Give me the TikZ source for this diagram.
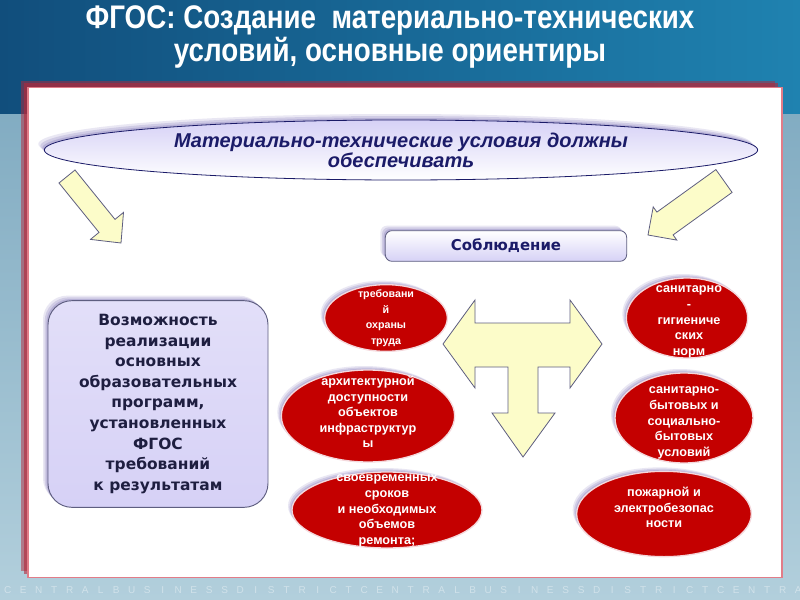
\documentclass[tikz,border=0pt]{standalone}
\usepackage{fontspec}
\setmainfont{Liberation Sans}
\newfontfamily\titlefont[FakeStretch=0.85]{Liberation Sans}
\newfontfamily\boxfont{DejaVu Sans}
\usetikzlibrary{shapes,arrows,positioning,shadows}

\definecolor{bgdark}{HTML}{114E7C}
\definecolor{bgmid}{HTML}{1F82B0}
\definecolor{bglight}{HTML}{77A4BC}
\definecolor{bgpale}{HTML}{B2CFDC}
\definecolor{panelred}{HTML}{B3283A}
\definecolor{panelrim}{HTML}{E27C88}
\definecolor{navy}{HTML}{1B1B68}
\definecolor{darktext}{HTML}{1E1E40}
\definecolor{lav}{HTML}{D6D1F6}
\definecolor{lavshadow}{HTML}{6F62B0}
\definecolor{redfill}{HTML}{C40000}
\definecolor{redrim}{HTML}{F4D8DC}
\definecolor{pale}{HTML}{FCFCC9}
\definecolor{arrowrim}{HTML}{5E5E80}

\tikzset{
  softshadow/.style={
    drop shadow={shadow xshift=-#1*1.5, shadow yshift=#1*1.5, fill=lavshadow, opacity=.15},
    drop shadow={shadow xshift=-#1, shadow yshift=#1, fill=lavshadow, opacity=.2},
    drop shadow={shadow xshift=-#1*.5, shadow yshift=#1*.5, fill=lavshadow, opacity=.25}},
  title/.style={text=white, align=center, font=\titlefont\bfseries\fontsize{24.5}{22.5}\selectfont},
  panel/.style={rectangle, fill=white, draw=panelrim, line width=0.8pt,
    minimum width=565.5pt, minimum height=368pt,
    drop shadow={shadow xshift=-5pt, shadow yshift=5pt, fill=panelred, opacity=.5},
    drop shadow={shadow xshift=-3pt, shadow yshift=3pt, fill=panelred, opacity=.6}},
  head/.style={ellipse, draw=navy, line width=0.6pt, top color=lav, bottom color=white,
    minimum width=535pt, minimum height=45pt, softshadow=3pt},
  headtext/.style={text=navy, align=center, inner sep=0,
    font=\bfseries\itshape\fontsize{15}{15}\selectfont},
  keepbox/.style={rectangle, rounded corners=5pt, draw=arrowrim, line width=0.6pt,
    top color=white, bottom color=lav, minimum width=181pt, minimum height=23pt,
    text=navy, font=\boxfont\bfseries\fontsize{11.2}{13}\selectfont, softshadow=2.5pt},
  bigbox/.style={rectangle, rounded corners=18pt, draw=arrowrim, line width=0.7pt,
    top color=lav!70, bottom color=lav, minimum width=165pt, minimum height=155pt,
    text=darktext, align=center, font=\boxfont\bfseries\fontsize{11.6}{15.4}\selectfont,
    softshadow=2.5pt},
  redell/.style={ellipse, fill=redfill, draw=redrim, line width=1pt, softshadow=2pt},
  redtext/.style={text=white, align=center, inner sep=0,
    font=\bfseries\fontsize{9.5}{11.7}\selectfont},
  blockarrow/.style={fill=pale, draw=arrowrim, line width=0.6pt, line join=miter},
  wmark/.style={text=white, opacity=.4, font=\fontsize{7.5}{7.5}\selectfont}
}

\begin{document}
\begin{tikzpicture}[x=0.75pt,y=-0.75pt]
\useasboundingbox (0,0) rectangle (800,600);
% background
\fill[top color=bglight, bottom color=bgpale] (0,0) rectangle (800,600);
\fill[left color=bgdark, right color=bgmid] (0,0) rectangle (800,113);
\foreach \c [count=\i] in {C,E,N,T,R,A,L,B,U,S,I,N,E,S,S,D,I,S,T,R,I,C,T,C,E,N,T,R,A,L,B,U,S,I,N,E,S,S,D,I,S,T,R,I,C,T,C,E,N,T,R,A}
  \node[wmark] (wm\i) at ({7.7+(\i-1)*15.5},590) {\c};

\node[title] (title) at (390,37) {ФГОС: Создание\ \ материально-технических\\условий, основные ориентиры};

\node[panel] (panel) at (405,332.5) {};

\node[head] (head) at (401,150) {};
\node[headtext] (headtxt) at (head.center) {Материально-технические условия должны\\обеспечивать};

% arrows from the heading
\draw[blockarrow] (59,183) -- (75,170) -- (115,219.4) -- (123.5,212.4) -- (121,243)
  -- (90.5,239.4) -- (99,232.4) -- cycle;
\draw[blockarrow] (715.9,169.6) -- (732.1,192.4) -- (673.1,234.9) -- (676.8,240.1)
  -- (648,235) -- (653.2,206.9) -- (656.9,212.1) -- cycle;

\node[keepbox] (keep) at (506,246) {Соблюдение};

\node[bigbox] (result) at (158,404) {Возможность\\ реализации\\основных\\образовательных\\программ,\\установленных\\ФГОС\\ требований\\к результатам};

% T arrow
\draw[blockarrow] (443,344) -- (475,300) -- (475,323) -- (570,323) -- (570,300) -- (602,344)
  -- (570,388) -- (570,367) -- (538,367) -- (538,413) -- (555,413) -- (523,457)
  -- (492,413) -- (508,413) -- (508,367) -- (475,367) -- (475,388) -- cycle;

% left column
\node[redell, minimum width=92pt, minimum height=50pt] (e1) at (386,318) {};
\node[redtext, font=\bfseries\fontsize{8}{11.6}\selectfont] (e1t) at (e1.center) {требовани\\й\\охраны\\труда};
\node[redell, minimum width=130pt, minimum height=69pt] (e2) at (368,416) {};
\node[redtext] (e2t) at (368,412) {архитектурной\\доступности\\объектов\\инфраструктур\\ы};
\node[redell, minimum width=142.5pt, minimum height=57pt] (e3) at (387,510) {};
\node[redtext] (e3t) at (387,511) {своевременных\\сроков\\и необходимых\\объемов\\ремонта;};

% right column
\node[redell, minimum width=91pt, minimum height=60pt] (e4) at (687,318) {};
\node[redtext] (e4t) at (689,322) {санитарно\\-\\гигиениче\\ских\\норм};
\node[redell, minimum width=103.5pt, minimum height=67.5pt] (e5) at (684,418) {};
\node[redtext] (e5t) at (684,423) {санитарно-\\бытовых и\\социально-\\бытовых\\условий};
\node[redell, minimum width=131pt, minimum height=64pt] (e6) at (664,514) {};
\node[redtext] (e6t) at (664,507.5) {пожарной и\\электробезопас\\ности};
\end{tikzpicture}
\end{document}
